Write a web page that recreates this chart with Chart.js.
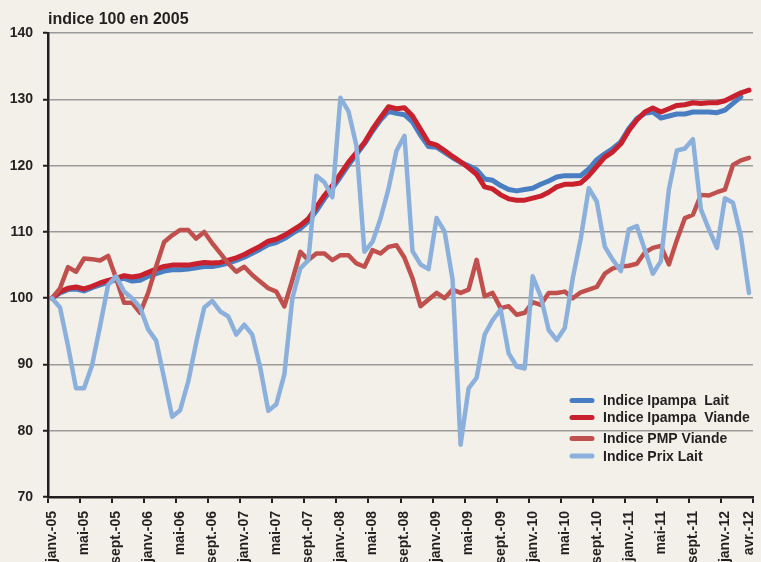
<!DOCTYPE html>
<html lang="fr">
<head>
<meta charset="utf-8">
<title>Indices Ipampa</title>
<script src="https://cdn.jsdelivr.net/npm/chart.js@4.4.1/dist/chart.umd.min.js"></script>
<style>
    html, body {
        margin: 0;
        padding: 0;
        overflow: hidden;
        background: #f3f0e9;
    }
    #wrap {
        position: relative;
        width: 761px;
        height: 562px;
    }
</style>
</head>
<body>
<div id="wrap"><canvas id="indicesChart"></canvas></div>
<script>
// Monthly series, janv.-05 .. avr.-12 (index 100 in 2005)
const monthNames = ['janv.', 'févr.', 'mars', 'avr.', 'mai', 'juin', 'juil.', 'août', 'sept.', 'oct.', 'nov.', 'déc.'];
const years = ['05', '06', '07', '08', '09', '10', '11', '12'];
const lastMonth = 'avr.-12';

const ipampaLait = [
    100, 100.8, 101.3, 101.4, 101.1, 101.6, 102.0, 102.4, 102.8, 103.0, 102.6, 102.7,
    103.3, 103.7, 104.1, 104.3, 104.3, 104.4, 104.6, 104.8, 104.8, 105.0, 105.3, 105.7,
    106.2, 106.8, 107.4, 108.1, 108.4, 109.0, 109.8, 110.5, 111.6, 113.2, 115.0, 116.6,
    118.3, 120.1, 121.7, 123.3, 125.2, 126.9, 128.2, 127.9, 127.7, 126.6, 124.6, 122.9,
    122.8, 122.0, 121.2, 120.5, 120.0, 119.4, 118.0, 117.8, 117.0, 116.4, 116.2, 116.4,
    116.6, 117.2, 117.7, 118.3, 118.5, 118.5, 118.5, 119.5, 120.9, 121.8, 122.6, 123.6,
    125.6, 127.1, 127.9, 128.1, 127.2, 127.5, 127.8, 127.8, 128.1, 128.1, 128.1, 128.0,
    128.4, 129.4, 130.4, null
];
const ipampaViande = [
    100, 101.0, 101.5, 101.7, 101.4, 101.8, 102.3, 102.7, 103.0, 103.4, 103.2, 103.4,
    103.9, 104.4, 104.8, 105.0, 105.0, 105.0, 105.2, 105.4, 105.3, 105.4, 105.75, 106.1,
    106.6, 107.25, 107.85, 108.6, 108.9, 109.5, 110.25, 111.0, 112.0, 113.75, 115.5, 117.0,
    118.75, 120.5, 122.0, 123.5, 125.5, 127.25, 128.9, 128.6, 128.75, 127.5, 125.5, 123.5,
    123.1, 122.3, 121.4, 120.6, 119.7, 118.7, 116.8, 116.5, 115.6, 115.0, 114.8, 114.8,
    115.1, 115.4, 116.0, 116.8, 117.2, 117.2, 117.4, 118.5, 119.9, 121.3, 122.1, 123.3,
    125.3, 126.9, 128.1, 128.7, 128.1, 128.6, 129.1, 129.2, 129.5, 129.4, 129.5, 129.5,
    129.8, 130.4, 131.0, 131.4
];
const pmpViande = [
    100, 101.5, 104.7, 104.0, 106.0, 105.9, 105.7, 106.4, 103.0, 99.3, 99.3, 97.8,
    100.8, 104.8, 108.5, 109.5, 110.3, 110.3, 109.0, 110.0, 108.3, 106.8, 105.25, 104.0,
    104.75, 103.5, 102.5, 101.5, 101.0, 98.75, 102.75, 107.0, 105.75, 106.75, 106.75, 105.75,
    106.5, 106.5, 105.25, 104.75, 107.25, 106.75, 107.75, 108.0, 106.1, 103.0, 98.8, 99.8,
    100.8, 100.0, 101.3, 100.8, 101.3, 105.8, 100.3, 100.8, 98.5, 98.8, 97.5, 97.8,
    99.4, 99.0, 100.8, 100.8, 101.0, 100.0, 100.9, 101.3, 101.7, 103.7, 104.5, 104.8,
    104.9, 105.2, 106.9, 107.6, 107.9, 105.1, 108.8, 112.1, 112.6, 115.6, 115.5, 116.0,
    116.4, 120.1, 120.8, 121.2
];
const prixLait = [
    100, 98.6, 92.8, 86.4, 86.4, 89.9, 95.8, 102.0, 103.3, 101.0, 100.0, 98.6,
    95.3, 93.6, 87.9, 82.1, 83.1, 87.4, 93.3, 98.6, 99.6, 98.0, 97.25, 94.5,
    96.0, 94.5, 89.5, 83.0, 84.0, 88.5, 100.0, 104.5, 105.75, 118.5, 117.5, 115.25,
    130.25, 128.25, 123.0, 107.0, 108.5, 112.0, 116.5, 122.25, 124.5, 107.1, 105.1, 104.4,
    112.1, 110.1, 102.8, 77.9, 86.4, 88.0, 94.5, 96.7, 98.3, 91.7, 89.7, 89.4,
    103.3, 100.3, 95.2, 93.7, 95.5, 103.0, 109.0, 116.6, 114.6, 107.8, 105.8, 104.1,
    110.4, 110.9, 107.3, 103.7, 105.6, 116.4, 122.3, 122.6, 124.0, 113.4, 110.4, 107.6,
    115.1, 114.4, 109.3, 100.8
];

const yTicks = [70, 80, 90, 100, 110, 120, 130, 140];

// Category labels janv.-05 .. avr.-12
const categories = [];
years.forEach(function(yy) {
    monthNames.forEach(function(m) {
        if (categories.length && categories[categories.length - 1] === lastMonth) return;
        categories.push(m + '-' + yy);
    });
});

const inkColor = '#231f20';
const fontFamily = '"Liberation Sans", Arial, sans-serif';

// Legend drawn inside the plot, lower right
const insideLegend = {
    id: 'insideLegend',
    afterDatasetsDraw: function(chart) {
        const ctx = chart.ctx;
        const area = chart.chartArea;
        const rows = [-96.5, -79.5, -58.5, -41];
        ctx.save();
        ctx.font = 'bold 14px ' + fontFamily;
        ctx.textBaseline = 'middle';
        ctx.textAlign = 'left';
        chart.data.datasets.forEach(function(ds, i) {
            const y = area.bottom + rows[i];
            const x = area.right - 183;
            ctx.strokeStyle = ds.borderColor;
            ctx.lineWidth = 5;
            ctx.lineCap = 'round';
            ctx.beginPath();
            ctx.moveTo(x + 2, y);
            ctx.lineTo(x + 22, y);
            ctx.stroke();
            ctx.fillStyle = inkColor;
            ctx.fillText(ds.label, x + 33, y + 1);
        });
        ctx.restore();
    }
};

document.addEventListener('DOMContentLoaded', function() {
    initIndicesChart();
});

function initIndicesChart() {
    const ctx = document.getElementById('indicesChart').getContext('2d');
    new Chart(ctx, {
        type: 'line',
        data: {
            labels: categories,
            datasets: [
                {
                    label: 'Indice Ipampa  Lait',
                    data: ipampaLait,
                    borderColor: '#4a7ec2',
                    borderWidth: 5,
                    order: 3
                },
                {
                    label: 'Indice Ipampa  Viande',
                    data: ipampaViande,
                    borderColor: '#c8202d',
                    borderWidth: 5,
                    order: 2
                },
                {
                    label: 'Indice PMP Viande',
                    data: pmpViande,
                    borderColor: '#c0504d',
                    borderWidth: 4.5,
                    order: 1
                },
                {
                    label: 'Indice Prix Lait',
                    data: prixLait,
                    borderColor: '#8cb0dc',
                    borderWidth: 4.5,
                    order: 0
                }
            ]
        },
        options: {
            responsive: true,
            maintainAspectRatio: false,
            animation: false,
            layout: {
                padding: { left: 0, right: 8, top: 0, bottom: 0 }
            },
            elements: {
                point: { radius: 0, hoverRadius: 0 },
                line: { tension: 0, borderJoinStyle: 'round', borderCapStyle: 'round', fill: false }
            },
            plugins: {
                legend: { display: false },
                tooltip: { enabled: false },
                title: {
                    display: true,
                    text: 'indice 100 en 2005',
                    align: 'start',
                    fullSize: false,
                    color: inkColor,
                    font: { family: fontFamily, size: 16, weight: 'bold' },
                    padding: { top: 10, bottom: 4 }
                }
            },
            scales: {
                x: {
                    type: 'category',
                    offset: true,
                    grid: {
                        offset: true,
                        drawOnChartArea: false,
                        drawTicks: true,
                        tickLength: 6,
                        lineWidth: 2,
                        color: function(c) {
                            return (c.index === undefined || c.index % 4 === 0) ? inkColor : 'rgba(0,0,0,0)';
                        }
                    },
                    border: { display: true, color: inkColor, width: 2.5 },
                    ticks: {
                        autoSkip: false,
                        minRotation: 90,
                        maxRotation: 90,
                        padding: 8,
                        color: inkColor,
                        font: { family: fontFamily, size: 14, weight: 'bold' },
                        callback: function(value, index) {
                            const lab = this.getLabelForValue(value);
                            return (index % 4 === 0 || lab === lastMonth) ? lab : '';
                        }
                    },
                    afterFit: function(scale) {
                        scale.height = 65;
                        // the rotated labels may run past the edges, like the original
                        scale.paddingLeft = 0;
                        scale.paddingRight = 0;
                    }
                },
                y: {
                    min: yTicks[0],
                    max: yTicks[yTicks.length - 1],
                    afterBuildTicks: function(scale) {
                        scale.ticks = yTicks.map(function(v) { return { value: v }; });
                    },
                    grid: {
                        color: '#9a9a9a',
                        lineWidth: 1.5,
                        tickLength: 5,
                        tickColor: inkColor,
                        tickWidth: 2
                    },
                    border: { display: true, color: inkColor, width: 2.5 },
                    ticks: {
                        padding: 10,
                        color: inkColor,
                        font: { family: fontFamily, size: 14, weight: 'bold' }
                    },
                    afterFit: function(scale) {
                        scale.width = 48;
                    }
                }
            }
        },
        plugins: [insideLegend]
    });
}
</script>
</body>
</html>
